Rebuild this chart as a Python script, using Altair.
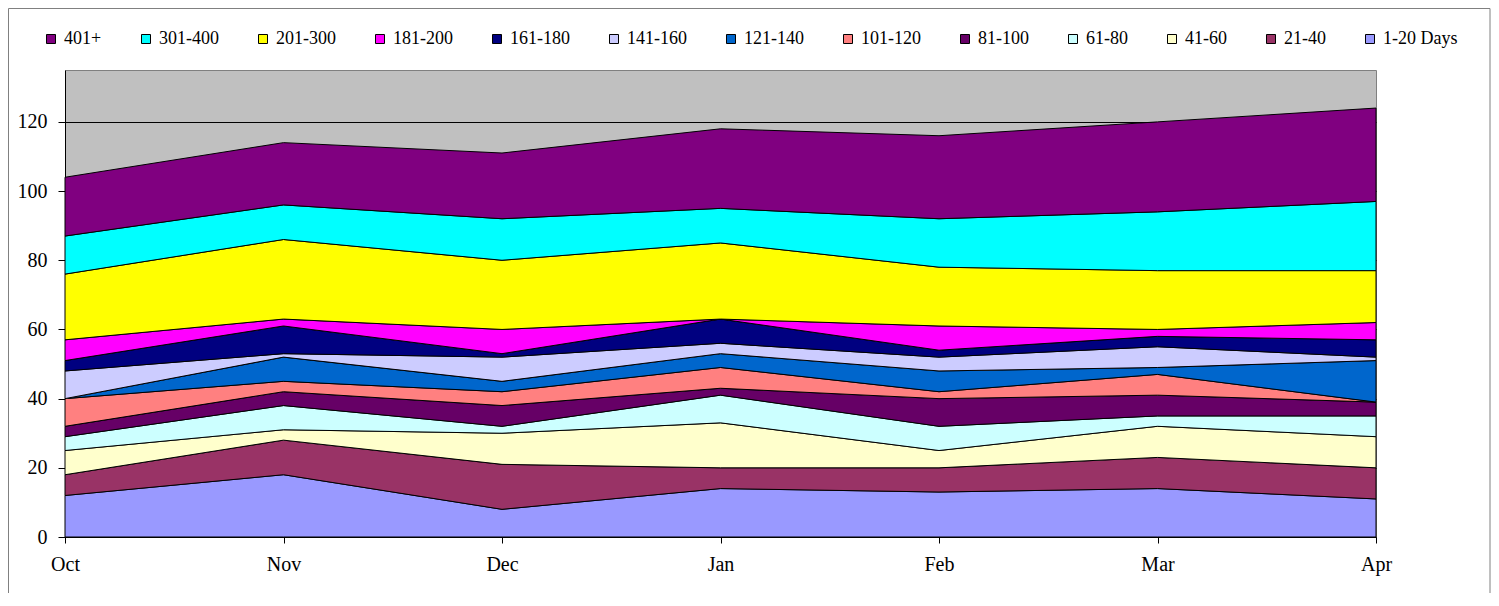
import altair as alt
import pandas as pd

months = ["Oct", "Nov", "Dec", "Jan", "Feb", "Mar", "Apr"]

# stacking order bottom -> top
series = ["1-20 Days", "21-40", "41-60", "61-80", "81-100", "101-120", "121-140",
          "141-160", "161-180", "181-200", "201-300", "301-400", "401+"]

d_1_20 = [12, 18, 8, 14, 13, 14, 11]
d_21_40 = [6, 10, 13, 6, 7, 9, 9]
d_41_60 = [7, 3, 9, 13, 5, 9, 9]
d_61_80 = [4, 7, 2, 8, 7, 3, 6]
d_81_100 = [3, 4, 6, 2, 8, 6, 4]
d_101_120 = [8, 3, 4, 6, 2, 6, 0]
d_121_140 = [0, 7, 3, 4, 6, 2, 12]
d_141_160 = [8, 1, 7, 3, 4, 6, 1]
d_161_180 = [3, 8, 1, 7, 2, 3, 5]
d_181_200 = [6, 2, 7, 0, 7, 2, 5]
d_201_300 = [19, 23, 20, 22, 17, 17, 15]
d_301_400 = [11, 10, 12, 10, 14, 17, 20]
d_401 = [17, 18, 19, 23, 24, 26, 27]

colors = ["#9999FF", "#993366", "#FFFFCC", "#CCFFFF", "#660066", "#FF8080", "#0066CC",
          "#CCCCFF", "#000080", "#FF00FF", "#FFFF00", "#00FFFF", "#800080"]

all_values = [d_1_20, d_21_40, d_41_60, d_61_80, d_81_100, d_101_120, d_121_140,
              d_141_160, d_161_180, d_181_200, d_201_300, d_301_400, d_401]

rows = []
for i, (name, vals) in enumerate(zip(series, all_values)):
    for m, v in zip(months, vals):
        rows.append({"month": m, "series": name, "idx": i, "value": v})
df = pd.DataFrame(rows)

legend_domain = series[::-1]
legend_range = colors[::-1]

FONT = "Liberation Serif"

areas = alt.Chart(df).mark_area(
    stroke="black", strokeWidth=1, opacity=1, fillOpacity=1, interpolate="linear"
).encode(
    x=alt.X("month:O", sort=months, scale=alt.Scale(type="point", padding=0),
            axis=alt.Axis(title=None, labelAngle=0, labelFontSize=20, labelFont=FONT,
                          labelColor="black", tickSize=6, tickColor="black",
                          domainColor="black", labelPadding=11, grid=False)),
    y=alt.Y("value:Q", stack="zero",
            scale=alt.Scale(domain=[0, 135], nice=False),
            axis=alt.Axis(title=None, values=[0, 20, 40, 60, 80, 100, 120],
                          labelFontSize=20, labelFont=FONT, labelColor="black",
                          tickSize=7, tickColor="black", domainColor="black",
                          labelPadding=11, grid=True, gridColor="black",
                          gridWidth=1, gridOpacity=1)),
    color=alt.Color("series:N",
                    scale=alt.Scale(domain=legend_domain, range=legend_range),
                    legend=alt.Legend(title=None, orient="none", direction="horizontal",
                                      columns=13, legendX=-23, legendY=-40,
                                      symbolType="square", symbolSize=81,
                                      symbolStrokeColor="black", symbolStrokeWidth=1,
                                      symbolOpacity=1, labelFont=FONT, labelFontSize=18,
                                      labelColor="black", labelOffset=4,
                                      columnPadding=35)),
    order=alt.Order("idx:Q", sort="ascending"),
)

frame_df = pd.DataFrame({"k": [0]})
left_border = alt.Chart(frame_df).mark_rule(color="#808080", strokeWidth=1).encode(
    x=alt.value(-56.5), y=alt.value(-61.5), y2=alt.value(523))
right_border = alt.Chart(frame_df).mark_rule(color="#808080", strokeWidth=1).encode(
    x=alt.value(1425), y=alt.value(-61.5), y2=alt.value(523))
top_border = alt.Chart(frame_df).mark_rule(color="#808080", strokeWidth=1).encode(
    x=alt.value(-56.5), x2=alt.value(1425), y=alt.value(-61.5))

chart = alt.layer(areas, left_border, right_border, top_border).properties(
    width=1311, height=467,
    padding={"left": 57, "top": 62, "right": 115, "bottom": 56},
    autosize=alt.AutoSizeParams(type="none"),
    background="white",
).configure_view(
    fill="#C0C0C0", stroke="#808080", strokeWidth=1
)

chart.save("out.html", embed_options={"renderer": "svg", "actions": False})
